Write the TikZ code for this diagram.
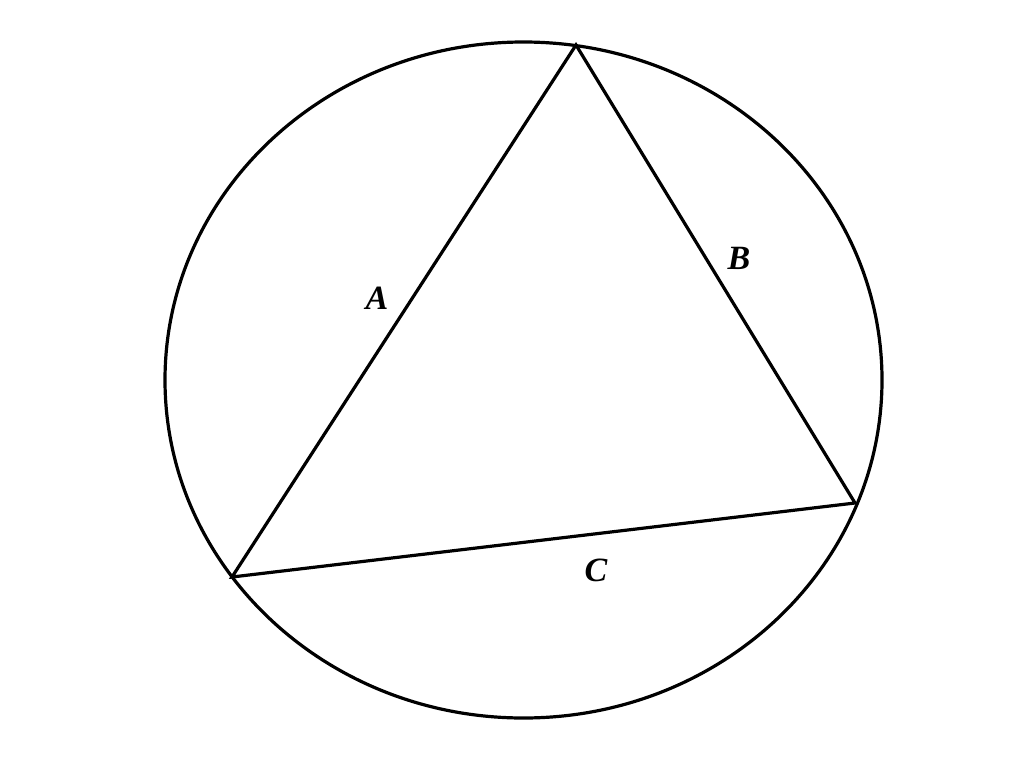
\documentclass[tikz,border=0pt]{standalone}
\usepackage{fontspec}
\setmainfont{Liberation Serif}
\usepackage{tikz}

\begin{document}
\begin{tikzpicture}[x=1pt, y=-1pt, line width=3.2pt,
  every node/.style = {font=\fontsize{34}{38}\selectfont\bfseries\itshape}]
  \useasboundingbox (0,0) rectangle (1024,768);
  \draw (523.5,380) ellipse [x radius=358.5, y radius=338];
  \coordinate (top) at (576,45);
  \coordinate (right) at (855,503);
  \coordinate (left) at (232,577);
  \draw[line join=miter] (top) -- (right) -- (left) -- cycle;
  \node (labA) at (377,298) {A};
  \node (labB) at (739,258) {B};
  \node (labC) at (596,570) {C};
\end{tikzpicture}
\end{document}
